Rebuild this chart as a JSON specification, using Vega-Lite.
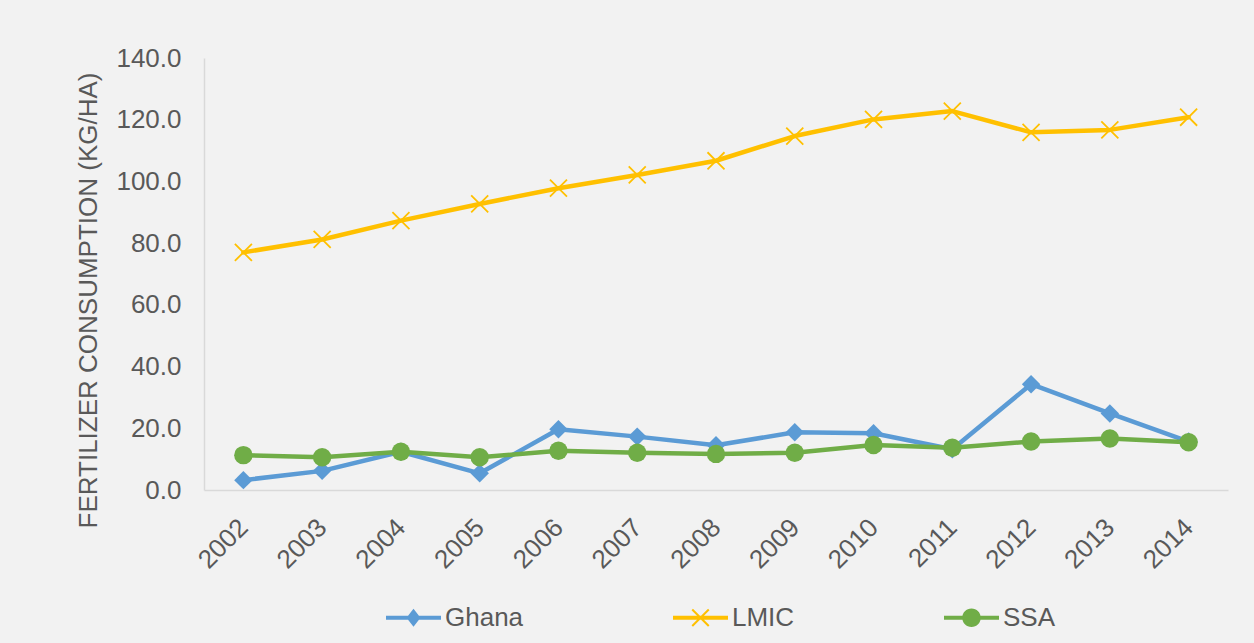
{
  "$schema": "https://vega.github.io/schema/vega-lite/v6.json",
  "autosize": {"type": "none"},
  "width": 1024,
  "height": 432,
  "padding": {"left": 204, "top": 58, "right": 26, "bottom": 153},
  "background": "#f2f2f2",
  "config": {
    "view": {"stroke": null},
    "font": "Liberation Sans",
    "axis": {"labelFont": "Liberation Sans", "titleFont": "Liberation Sans", "labelColor": "#595959", "titleColor": "#595959"}
  },
  "data": {
    "values": [
      {"year": "2002", "series": "Ghana", "value": 3.2},
      {"year": "2003", "series": "Ghana", "value": 6.2},
      {"year": "2004", "series": "Ghana", "value": 12.4},
      {"year": "2005", "series": "Ghana", "value": 5.4},
      {"year": "2006", "series": "Ghana", "value": 19.7},
      {"year": "2007", "series": "Ghana", "value": 17.3},
      {"year": "2008", "series": "Ghana", "value": 14.5},
      {"year": "2009", "series": "Ghana", "value": 18.7},
      {"year": "2010", "series": "Ghana", "value": 18.4},
      {"year": "2011", "series": "Ghana", "value": 13.2},
      {"year": "2012", "series": "Ghana", "value": 34.3},
      {"year": "2013", "series": "Ghana", "value": 24.8},
      {"year": "2014", "series": "Ghana", "value": 15.7},
      {"year": "2002", "series": "LMIC", "value": 77.0},
      {"year": "2003", "series": "LMIC", "value": 81.2},
      {"year": "2004", "series": "LMIC", "value": 87.3},
      {"year": "2005", "series": "LMIC", "value": 92.7},
      {"year": "2006", "series": "LMIC", "value": 97.8},
      {"year": "2007", "series": "LMIC", "value": 102.1},
      {"year": "2008", "series": "LMIC", "value": 106.7},
      {"year": "2009", "series": "LMIC", "value": 114.7},
      {"year": "2010", "series": "LMIC", "value": 120.1},
      {"year": "2011", "series": "LMIC", "value": 122.8},
      {"year": "2012", "series": "LMIC", "value": 115.9},
      {"year": "2013", "series": "LMIC", "value": 116.7},
      {"year": "2014", "series": "LMIC", "value": 120.8},
      {"year": "2002", "series": "SSA", "value": 11.3},
      {"year": "2003", "series": "SSA", "value": 10.6},
      {"year": "2004", "series": "SSA", "value": 12.4},
      {"year": "2005", "series": "SSA", "value": 10.6},
      {"year": "2006", "series": "SSA", "value": 12.7},
      {"year": "2007", "series": "SSA", "value": 12.1},
      {"year": "2008", "series": "SSA", "value": 11.7},
      {"year": "2009", "series": "SSA", "value": 12.1},
      {"year": "2010", "series": "SSA", "value": 14.6},
      {"year": "2011", "series": "SSA", "value": 13.7},
      {"year": "2012", "series": "SSA", "value": 15.7},
      {"year": "2013", "series": "SSA", "value": 16.7},
      {"year": "2014", "series": "SSA", "value": 15.5}
    ]
  },
  "encoding": {
    "x": {
      "field": "year", "type": "ordinal", "title": null,
      "scale": {"type": "point", "padding": 0.5},
      "axis": {
        "labelAngle": -45, "labelAlign": "right", "labelBaseline": "middle",
        "labelFontSize": 26, "labelPadding": 33, "ticks": false,
        "domainColor": "#d9d9d9", "domainWidth": 1.5, "grid": false
      }
    },
    "y": {
      "field": "value", "type": "quantitative",
      "title": "FERTILIZER CONSUMPTION (KG/HA)",
      "scale": {"domain": [0, 140], "nice": false, "zero": true},
      "axis": {
        "values": [0, 20, 40, 60, 80, 100, 120, 140], "format": ".1f",
        "labelFontSize": 26, "labelPadding": 23, "ticks": false,
        "domainColor": "#d9d9d9", "domainWidth": 1.5, "grid": false,
        "titleFontSize": 26, "titleFontWeight": "normal", "titlePadding": 14, "titleY": 242
      }
    }
  },
  "layer": [
    {
      "mark": {"type": "point", "filled": true, "opacity": 0},
      "encoding": {
        "fill": {
          "field": "series", "type": "nominal",
          "scale": {"domain": ["Ghana", "LMIC", "SSA"], "range": ["#5B9BD5", "#FFC000", "#70AD47"]},
          "legend": {
            "orient": "none", "legendX": 182, "legendY": 532, "direction": "horizontal",
            "title": null, "labelFontSize": 26, "labelColor": "#595959", "labelFont": "Liberation Sans",
            "symbolSize": 3025, "columnPadding": 149, "labelOffset": 4, "padding": 0,
            "symbolStrokeWidth": 0, "symbolOpacity": 1
          }
        },
        "shape": {
          "field": "series", "type": "nominal",
          "scale": {
            "domain": ["Ghana", "LMIC", "SSA"],
            "range": [
              "M-1,-0.075H1V0.075H-1Z M0,-0.327L0.255,0L0,0.327L-0.255,0Z",
              "M-1,-0.075H1V0.075H-1Z M-0.274,-0.326L0.326,0.274L0.274,0.326L-0.326,-0.274Z M-0.326,0.274L0.274,-0.326L0.326,-0.274L-0.274,0.326Z",
              "M-1,-0.075H1V0.075H-1Z M-0.338,0A0.338,0.338 0 1,1 0.338,0A0.338,0.338 0 1,1 -0.338,0Z"
            ]
          },
          "legend": {
            "orient": "none", "legendX": 182, "legendY": 532, "direction": "horizontal",
            "title": null, "labelFontSize": 26, "labelColor": "#595959", "labelFont": "Liberation Sans",
            "symbolSize": 3025, "columnPadding": 149, "labelOffset": 4, "padding": 0,
            "symbolStrokeWidth": 0, "symbolOpacity": 1
          }
        }
      }
    },
    {
      "mark": {"type": "line", "strokeWidth": 4.5, "strokeCap": "round", "strokeJoin": "round"},
      "encoding": {
        "color": {
          "field": "series", "type": "nominal",
          "scale": {"domain": ["Ghana", "LMIC", "SSA"], "range": ["#5B9BD5", "#FFC000", "#70AD47"]},
          "legend": null
        }
      }
    },
    {
      "transform": [{"filter": {"field": "series", "equal": "Ghana"}}],
      "mark": {"type": "point", "shape": "diamond", "filled": true, "size": 340, "opacity": 1, "color": "#5B9BD5"}
    },
    {
      "transform": [{"filter": {"field": "series", "equal": "LMIC"}}],
      "mark": {"type": "point", "shape": "M-1,-1L1,1M-1,1L1,-1", "filled": false, "size": 290, "strokeWidth": 1.8, "opacity": 1, "color": "#FFC000"}
    },
    {
      "transform": [{"filter": {"field": "series", "equal": "SSA"}}],
      "mark": {"type": "point", "shape": "circle", "filled": true, "size": 340, "opacity": 1, "color": "#70AD47"}
    }
  ]
}
